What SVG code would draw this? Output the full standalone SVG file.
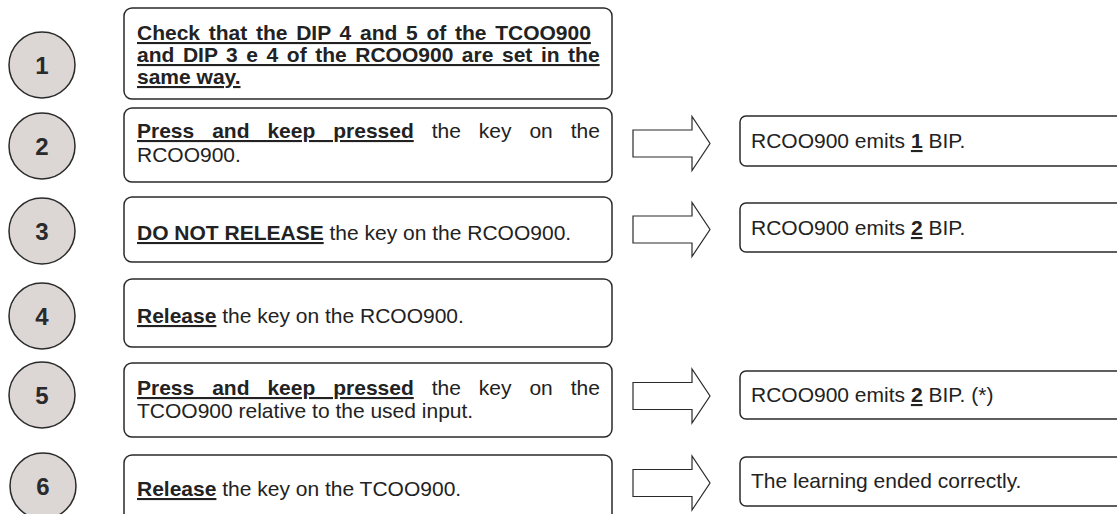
<svg xmlns="http://www.w3.org/2000/svg" width="1117" height="514" viewBox="0 0 1117 514">
<style>
.bg{fill:#ffffff}
.num{fill:#dcd7d5;stroke:#2a2a2a;stroke-width:1.5}
.numt{font-family:"Liberation Sans",Arial,sans-serif;font-weight:bold;font-size:24px;fill:#2a2a2a;text-anchor:middle}
.box{fill:#ffffff;stroke:#2a2a2a;stroke-width:1.5}
.t{font-family:"Liberation Sans",Arial,sans-serif;font-size:21px;fill:#222222}
.b{font-weight:bold;text-decoration:underline}
.arr{fill:#ffffff;stroke:#2a2a2a;stroke-width:1.2;stroke-linejoin:miter}
</style>
<rect class="bg" x="0" y="0" width="1117" height="514"/>
<g id="connectors">
<polygon class="arr" points="633,130 692,130 692,116.5 710,143.5 692,170.5 692,157 633,157"/>
<polygon class="arr" points="633,216 692,216 692,202.5 710,229.5 692,256.5 692,243 633,243"/>
<polygon class="arr" points="633,382.5 692,382.5 692,369 710,396 692,423 692,409.5 633,409.5"/>
<polygon class="arr" points="633,469.5 692,469.5 692,456 710,483 692,510 692,496.5 633,496.5"/>
</g>
<g id="step1">
<circle class="num" cx="42" cy="65" r="33"/>
<text class="numt" x="42" y="73.5">1</text>
<rect class="box" x="124" y="8" width="488" height="91" rx="8"/>
<text class="t" x="137" y="40" word-spacing="2.89"><tspan class="b">Check that the DIP 4 and 5 of the TCOO900</tspan></text>
<text class="t" x="137" y="62" word-spacing="2.73"><tspan class="b">and DIP 3 e 4 of the RCOO900 are set in the</tspan></text>
<text class="t" x="137" y="84"><tspan class="b">same way.</tspan></text>
</g>
<g id="step2">
<circle class="num" cx="42" cy="146" r="33"/>
<text class="numt" x="42" y="154.5">2</text>
<rect class="box" x="124" y="108" width="488" height="74" rx="8"/>
<text class="t" x="137" y="138" word-spacing="12.1"><tspan class="b">Press and keep pressed</tspan> the key on the</text>
<text class="t" x="137" y="162">RCOO900.</text>
</g>
<g id="result2">
<rect class="box" x="740" y="116" width="400" height="50" rx="6"/>
<text class="t" x="751" y="148">RCOO900 emits <tspan class="b">1</tspan> BIP.</text>
</g>
<g id="step3">
<circle class="num" cx="42" cy="231" r="33"/>
<text class="numt" x="42" y="239.5">3</text>
<rect class="box" x="124" y="197" width="488" height="65" rx="8"/>
<text class="t" x="137" y="240"><tspan class="b">DO NOT RELEASE</tspan> the key on the RCOO900.</text>
</g>
<g id="result3">
<rect class="box" x="740" y="203" width="400" height="49" rx="6"/>
<text class="t" x="751" y="235">RCOO900 emits <tspan class="b">2</tspan> BIP.</text>
</g>
<g id="step4">
<circle class="num" cx="42" cy="316" r="33"/>
<text class="numt" x="42" y="324.5">4</text>
<rect class="box" x="124" y="279" width="488" height="68" rx="8"/>
<text class="t" x="137" y="323"><tspan class="b">Release</tspan> the key on the RCOO900.</text>
</g>
<g id="step5">
<circle class="num" cx="42" cy="395" r="33"/>
<text class="numt" x="42" y="403.5">5</text>
<rect class="box" x="124" y="363" width="488" height="74" rx="8"/>
<text class="t" x="137" y="395" word-spacing="12.1"><tspan class="b">Press and keep pressed</tspan> the key on the</text>
<text class="t" x="137" y="418">TCOO900 relative to the used input.</text>
</g>
<g id="result5">
<rect class="box" x="740" y="371" width="400" height="48" rx="6"/>
<text class="t" x="751" y="402">RCOO900 emits <tspan class="b">2</tspan> BIP. (*)</text>
</g>
<g id="step6">
<circle class="num" cx="43" cy="486" r="33"/>
<text class="numt" x="43" y="494.5">6</text>
<rect class="box" x="124" y="455" width="488" height="80" rx="8"/>
<text class="t" x="137" y="496"><tspan class="b">Release</tspan> the key on the TCOO900.</text>
</g>
<g id="result6">
<rect class="box" x="740" y="457" width="400" height="49" rx="6"/>
<text class="t" x="751" y="488">The learning ended correctly.</text>
</g>
</svg>
